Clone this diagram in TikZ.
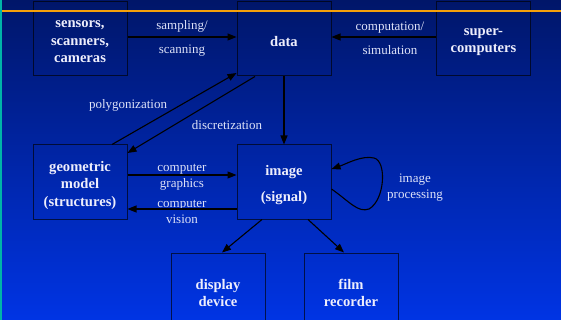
\documentclass[tikz,border=0pt]{standalone}
\usepackage{fontspec}
\setmainfont{Liberation Serif}
\usetikzlibrary{arrows.meta}
\definecolor{bgtop}{RGB}{0,22,105}
\definecolor{bgbot}{RGB}{0,52,228}
\definecolor{boxtxt}{RGB}{238,238,252}
\definecolor{labtxt}{RGB}{222,226,248}
\definecolor{orangeline}{RGB}{245,160,10}
\definecolor{tealstrip}{RGB}{0,180,168}
\tikzset{
  boxnode/.style={draw=black, draw opacity=0.65, line width=1pt, minimum width=94pt, minimum height=74pt,
    inner sep=0pt},
  boxtext/.style={inner sep=0pt, align=center, text=boxtxt, font=\bfseries\fontsize{14.6}{17.5}\selectfont},
  labnode/.style={inner sep=0pt, align=center, text=labtxt, font=\fontsize{13}{16}\selectfont},
  arr/.style={draw=black, line width=1.1pt, -{Triangle[length=9pt,width=7pt]}}
}
\begin{document}
\begin{tikzpicture}[x=1pt,y=-1pt]
\useasboundingbox (0,0) rectangle (561,320);
\clip (0,0) rectangle (561,320);
\shade[top color=bgtop, bottom color=bgbot] (0,0) rectangle (561,320);
\fill[tealstrip] (0,0) rectangle (2.2,320);

\node[boxnode] (sensors) at (80,39) {};
\node[boxnode] (data) at (284,39) {};
\node[boxnode] (super) at (483.5,39) {};
\node[boxnode] (geo) at (80,182) {};
\node[boxnode] (image) at (284,182) {};
\node[boxnode] (display) at (218,290) {};
\node[boxnode] (film) at (351,290) {};

\node[boxtext] (sensorsT) at ([yshift=-3pt]sensors.center) {sensors,\\scanners,\\cameras};
\node[boxtext] (dataT) at ([yshift=-3pt]data.center) {data};
\node[boxtext] (superT) at ([yshift=-3pt]super.center) {super-\\computers};
\node[boxtext] (geoT) at ([yshift=-3pt]geo.center) {geometric\\model\\(structures)};
\node[boxtext, font=\bfseries\fontsize{14.6}{26}\selectfont] (imageT) at ([yshift=-3.5pt]image.center) {image\\(signal)};
\node[boxtext] (displayT) at ([yshift=-3pt]display.center) {display\\device};
\node[boxtext] (filmT) at ([yshift=-3pt]film.center) {film\\recorder};

\fill[orangeline] (2.2,10) rectangle (561,12.5);

\node[labnode, font=\fontsize{13}{24}\selectfont] (lsamp) at (182,38.5) {sampling/\\scanning};
\node[labnode, font=\fontsize{13}{24}\selectfont] (lcomp) at (390,38.5) {computation/\\simulation};
\node[labnode] (lpoly) at (128,105) {polygonization};
\node[labnode] (ldisc) at (227,125) {discretization};
\node[labnode] (lgraph) at (182,177.5) {computer\\graphics};
\node[labnode] (lvis) at (182,211.5) {computer\\vision};
\node[labnode] (lproc) at (415,187.5) {image\\processing};

\draw[arr] ([yshift=2pt]sensors.east) -- ([yshift=2pt]data.west);
\draw[arr] ([yshift=2pt]super.west) -- ([yshift=2pt]data.east);
\draw[arr] ([xshift=32pt]geo.north) -- ([yshift=-34pt]data.west);
\draw[arr] ([xshift=-29pt]data.south) -- ([yshift=29pt]geo.east);
\draw[arr] (data.south) -- (image.north);
\draw[arr] ([yshift=7pt]geo.east) -- ([yshift=7pt]image.west);
\draw[arr] ([yshift=-27pt]image.west) -- ([yshift=-27pt]geo.east);
\draw[arr] ([yshift=-7pt]image.east) .. controls (350,202) and (358,213) .. (369,209)
  .. controls (385,200) and (387,161) .. (374,158)
  .. controls (362,155) and (346,164) .. ([yshift=13pt]image.east);
\draw[arr] ([xshift=-22pt]image.south) -- ([xshift=4pt]display.north);
\draw[arr] ([xshift=24pt]image.south) -- ([xshift=-7pt]film.north);
\end{tikzpicture}
\end{document}
